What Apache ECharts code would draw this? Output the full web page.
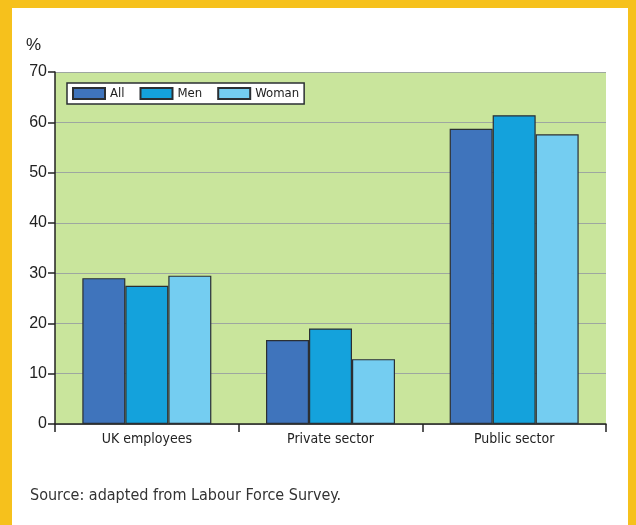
<!DOCTYPE html>
<html>
<head>
<meta charset="utf-8">
<script src="https://cdn.jsdelivr.net/npm/echarts@6/dist/echarts.min.js"></script>
<style>
  html, body { margin: 0; padding: 0; background: #f6c11c; }
  #panel { position: absolute; left: 12px; top: 8px; width: 616px; height: 517px; background: #ffffff; }
  #chart { position: absolute; left: 0; top: 0; width: 636px; height: 525px; }
</style>
</head>
<body>
<div id="panel"></div>
<div id="chart"></div>
<script>
// Share of employees (%) by sector and sex
const categories = ['UK employees', 'Private sector', 'Public sector'];
const seriesNames = ['All', 'Men', 'Woman'];
const allValues = [29.0, 16.7, 58.7];
const menValues = [27.5, 19.0, 61.4];
const womanValues = [29.5, 12.9, 57.6];
const yTicks = [0, 10, 20, 30, 40, 50, 60, 70];

const colors = ['#3f74bc', '#14a2dc', '#74cdf1'];
const narrow = '"DejaVu Sans Condensed", "Liberation Sans Narrow", "Liberation Sans", sans-serif';
const regular = '"Liberation Sans", Arial, sans-serif';

const chart = echarts.init(document.getElementById('chart'), null, { renderer: 'canvas' });

function makeBar(name, data, color) {
  return {
    name: name,
    type: 'bar',
    data: data,
    barWidth: 43,
    barGap: '0%',
    itemStyle: { color: color, borderColor: '#2b2f33', borderWidth: 1.2 },
    emphasis: { disabled: true }
  };
}

chart.setOption({
  backgroundColor: 'transparent',
  animation: false,
  grid: {
    left: 55, top: 72, right: 30, bottom: 101,
    show: true, backgroundColor: '#c9e59c', borderWidth: 0
  },
  legend: {
    data: seriesNames,
    left: 67, top: 83,
    orient: 'horizontal',
    icon: 'rect',
    itemWidth: 32, itemHeight: 11,
    itemGap: 15,
    padding: [4, 5, 4, 5],
    backgroundColor: '#ffffff',
    borderColor: '#2b2f33',
    borderWidth: 1.5,
    borderRadius: 0,
    textStyle: { fontFamily: narrow, fontSize: 13, color: '#222' }
  },
  xAxis: {
    type: 'category',
    data: categories,
    axisLine: { lineStyle: { color: '#222', width: 1.5 } },
    axisTick: { show: true, length: 8, lineStyle: { color: '#222', width: 1.5 } },
    axisLabel: { fontFamily: narrow, fontSize: 14, color: '#222', margin: 8 },
    splitLine: { show: false }
  },
  yAxis: {
    type: 'value',
    min: yTicks[0], max: yTicks[yTicks.length - 1], interval: 10,
    name: '%',
    nameLocation: 'end',
    nameGap: 18,
    nameTextStyle: { fontFamily: regular, fontSize: 17, color: '#222', align: 'right', padding: [0, 14, 0, 0] },
    axisLine: { show: true, lineStyle: { color: '#222', width: 1.5 } },
    axisTick: { show: true, length: 7, lineStyle: { color: '#222', width: 1.5 } },
    axisLabel: { fontFamily: regular, fontSize: 16, color: '#222', margin: 8 },
    splitLine: { show: true, lineStyle: { color: '#9ea7a0', width: 1.2 } }
  },
  series: [
    makeBar(seriesNames[0], allValues, colors[0]),
    makeBar(seriesNames[1], menValues, colors[1]),
    makeBar(seriesNames[2], womanValues, colors[2])
  ],
  graphic: [{
    type: 'text',
    left: 30, top: 488,
    style: { text: 'Source: adapted from Labour Force Survey.', font: '16px ' + narrow, fill: '#333' }
  }]
});
</script>
</body>
</html>
